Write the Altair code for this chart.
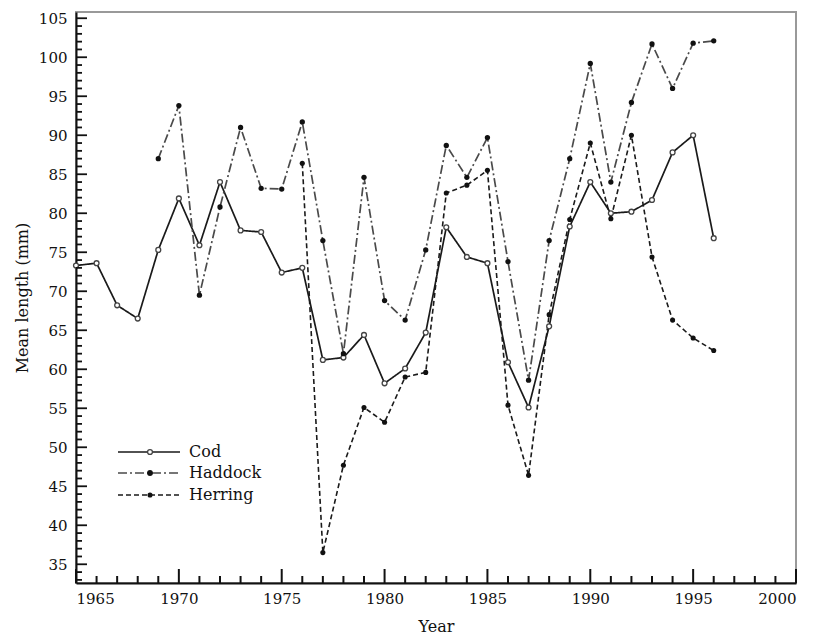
import altair as alt
import pandas as pd

# ---- data ----
cod_years = list(range(1965, 1997))
cod_vals = [73.3, 73.6, 68.2, 66.5, 75.3, 81.9, 75.9, 84.0, 77.8, 77.6,
            72.4, 73.0, 61.2, 61.5, 64.4, 58.2, 60.1, 64.7, 78.2, 74.4,
            73.6, 60.9, 55.1, 65.5, 78.3, 84.0, 80.0, 80.2, 81.7, 87.8,
            90.0, 76.8]

haddock_years = list(range(1969, 1997))
haddock_vals = [87.0, 93.8, 69.5, 80.8, 91.0, 83.2, 83.1, 91.7, 76.5, 62.0,
                84.6, 68.8, 66.3, 75.3, 88.7, 84.6, 89.7, 73.8, 58.6, 76.5,
                87.0, 99.2, 84.0, 94.2, 101.7, 96.0, 101.8, 102.1]

herring_years = list(range(1976, 1997))
herring_vals = [86.4, 36.5, 47.7, 55.1, 53.2, 59.0, 59.6, 82.6, 83.6, 85.5,
                55.4, 46.4, 67.0, 79.2, 89.0, 79.3, 90.0, 74.4, 66.3, 64.0,
                62.4]

series_names = ["Cod", "Haddock", "Herring"]
x_major = [1965, 1970, 1975, 1980, 1985, 1990, 1995, 2000]
x_minor = list(range(1965, 2001))
y_major = list(range(35, 106, 5))
y_minor = list(range(33, 106))

W, H = 720, 571
FONT = "DejaVu Serif"

xs = alt.Scale(domain=[1965, 2000], nice=False, zero=False)
ys = alt.Scale(domain=[32.6, 105.8], nice=False, zero=False)

x_enc = alt.X("year:Q", scale=xs,
              axis=alt.Axis(values=x_major, format="d", ticks=False, grid=False,
                            title="Year", labelPadding=8, titlePadding=12))
y_enc = alt.Y("value:Q", scale=ys,
              axis=alt.Axis(values=y_major, format="d", ticks=False, grid=False,
                            title="Mean length (mm)", labelPadding=9, titlePadding=8))

def df(years, vals):
    return pd.DataFrame({"year": years, "value": vals})

cod_df = df(cod_years, cod_vals)
had_df = df(haddock_years, haddock_vals)
her_df = df(herring_years, herring_vals)

styles = {
    "Cod": dict(color="#1a1a1a", dash=[1, 0], width=1.7),
    "Haddock": dict(color="#4a4a4a", dash=[9, 3, 2, 3], width=1.7),
    "Herring": dict(color="#1a1a1a", dash=[5, 3], width=1.6),
}

layers = []
for name, d in [("Cod", cod_df), ("Haddock", had_df), ("Herring", her_df)]:
    s = styles[name]
    layers.append(alt.Chart(d).mark_line(color=s["color"], strokeDash=s["dash"],
                                         strokeWidth=s["width"]).encode(x=x_enc, y=y_enc))
cod_pts = alt.Chart(cod_df).mark_point(shape="circle", filled=True, fill="white",
                                       stroke="#444444", strokeWidth=1.3, size=24,
                                       opacity=1).encode(x=x_enc, y=y_enc)
had_pts = alt.Chart(had_df).mark_point(shape="circle", filled=True, color="#111111",
                                       size=28, opacity=1).encode(x=x_enc, y=y_enc)
her_pts = alt.Chart(her_df).mark_point(shape="circle", filled=True, color="#111111",
                                       size=26, opacity=1).encode(x=x_enc, y=y_enc)
layers += [cod_pts, had_pts, her_pts]

# ---- inward ticks: short rules starting at the axis lines ----
tick_x = pd.DataFrame({"year": x_minor,
                       "len": [7.0 if y % 5 else 14.0 for y in x_minor]})
tick_y = pd.DataFrame({"value": y_minor,
                       "len": [6.0 if v % 5 else 11.0 for v in y_minor]})
xt = alt.Chart(tick_x).transform_calculate(
    top=f"{H} - datum.len", bot=f"{H}"
).mark_rule(color="#111111", strokeWidth=2).encode(
    x=x_enc, y=alt.Y("top:Q", scale=None, axis=None), y2=alt.Y2("bot:Q"))
yt = alt.Chart(tick_y).transform_calculate(
    l="0", r="datum.len"
).mark_rule(color="#111111", strokeWidth=1.8).encode(
    y=y_enc, x=alt.X("l:Q", scale=None, axis=None), x2=alt.X2("r:Q"))
layers += [xt, yt]

# ---- manual legend ----
row_y = [440, 461, 483]
lx0, lx1, lmid, ltext = 42, 104, 74, 113
for i, name in enumerate(series_names):
    s = styles[name]
    one = pd.DataFrame({"name": [name]})
    layers.append(alt.Chart(one).mark_rule(color=s["color"], strokeDash=s["dash"],
                                           strokeWidth=s["width"]).encode(
        x=alt.value(lx0), x2=alt.value(lx1), y=alt.value(row_y[i])))
    if name == "Cod":
        pt = alt.Chart(one).mark_point(shape="circle", filled=True, fill="white",
                                       stroke="#444444", strokeWidth=1.3, size=24, opacity=1)
    else:
        pt = alt.Chart(one).mark_point(shape="circle", filled=True, color="#111111",
                                       size=34 if name == "Haddock" else 26, opacity=1)
    layers.append(pt.encode(x=alt.value(lmid), y=alt.value(row_y[i])))
    layers.append(alt.Chart(one).mark_text(align="left", baseline="middle", font=FONT,
                                           fontSize=16, color="#111111").encode(
        x=alt.value(ltext), y=alt.value(row_y[i]), text="name:N"))

chart = alt.layer(*layers).properties(
    width=W, height=H,
    autosize=alt.AutoSizeParams(type="none"),
    padding={"left": 68, "top": 4, "right": 12, "bottom": 58},
).configure_view(
    stroke="#999999", strokeWidth=2
).configure_axis(
    labelFont=FONT, labelFontSize=15, labelColor="#111111",
    titleFont=FONT, titleFontSize=16, titleFontWeight="normal", titleColor="#111111",
    domainColor="#111111", domainWidth=2
)

chart.save("out.html", embed_options={"renderer": "svg", "actions": False})
